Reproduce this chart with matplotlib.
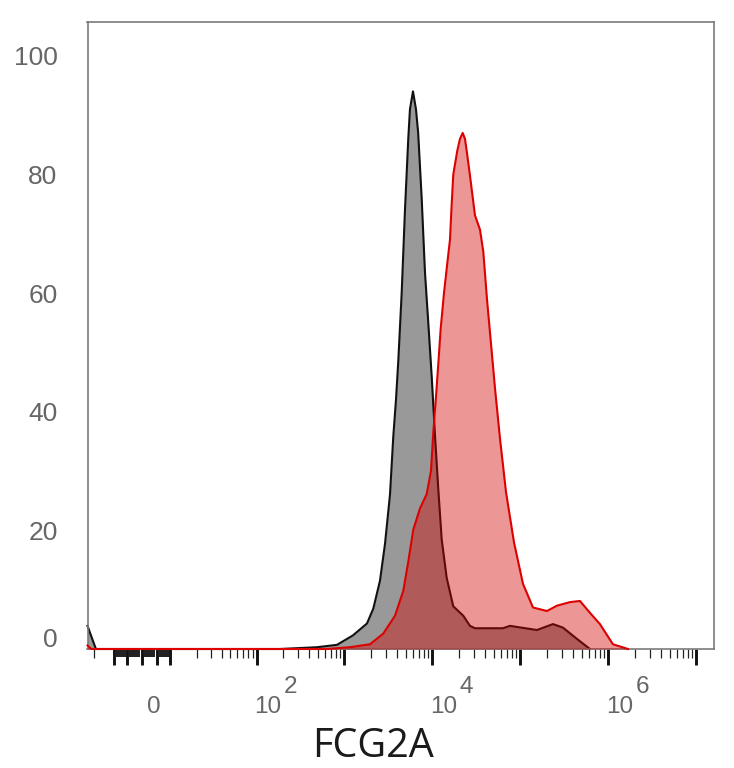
import numpy as np
import matplotlib
matplotlib.use("Agg")
import matplotlib.pyplot as plt
from matplotlib.transforms import ScaledTranslation

# ---------------- data (FCG2A intensity, % of max) ----------------
ctrl_x = [-19.6, -15.2, 185, 487, 822, 1249, 1802, 2125, 2532, 2887, 3290, 3587,
          3849, 4088, 4468, 4871, 5309, 5551, 6005, 6495, 6880, 7541, 8220, 8963,
          9798, 10683, 11643, 12727, 14507, 17240, 22399, 26690, 30421, 63282,
          75990, 154005, 234080, 304090, 438575, 616200]
ctrl_y = [3.9, 0, 0, 0.3, 0.7, 2.3, 4.3, 6.8, 11.5, 17.7, 26, 35.8, 42, 48.5, 60,
          74, 86, 91, 94, 91, 87, 76, 63.5, 55, 46, 36, 27, 18.5, 12, 7.2, 5.6,
          3.9, 3.5, 3.5, 3.9, 3.2, 4.2, 3.6, 1.7, 0]

fcg_x = [-19.6, -17.5, 633, 1155, 1950, 2761, 3750, 4659, 5309, 6052, 7212, 8594,
         9619, 10217, 10964, 11643, 12398, 13518, 14735, 15813, 16534, 17240,
         19144, 20547, 22050, 23421, 24483, 26690, 30421, 34672, 37798, 41637,
         46232, 51330, 58505, 68449, 84392, 106765, 138700, 200025, 259915,
         365200, 474400, 616200, 800400, 1124550, 1665700]
fcg_y = [0.6, 0, 0, 0.3, 0.8, 2.6, 5.6, 9.8, 14.7, 20.1, 23.7, 26.1, 30, 36.5,
         42.5, 48, 54, 60, 65, 69, 75, 80, 84, 86, 87, 86, 84, 79.8, 73.1, 70.7,
         67, 59, 51.5, 44, 35.5, 26.5, 18, 11, 7, 6.4, 7.3, 7.9, 8.1, 6.1, 4.2,
         0.8, 0]

y_ticks = [0, 20, 40, 60, 80, 100]
x_label_ticks = [0, 1e2, 1e4, 1e6]
x_label_base = ["0", "10", "10", "10"]
x_label_exp = ["", "2", "4", "6"]
x_label = "FCG2A"

# ---------------- figure ----------------
W, H = 734, 768
fig = plt.figure(figsize=(W / 100, H / 100), dpi=100)
ax = fig.add_axes([87.5 / W, 1 - 649 / H, 626 / W, 627 / H])

C = 10.0
def fwd(v):
    return np.arcsinh(np.asarray(v, dtype=float) / C) / np.log(10)
def inv(u):
    return C * np.sinh(np.asarray(u, dtype=float) * np.log(10))

ax.set_xscale("function", functions=(fwd, inv))
ax.set_xlim(-19.6, 1.562e7)
ax.set_ylim(0, 105.7)

# histograms
ax.fill_between(ctrl_x, ctrl_y, 0, color="#999999", lw=0, zorder=1)
ax.plot(ctrl_x, ctrl_y, color="#111111", lw=1.5, zorder=2, clip_on=False,
        solid_joinstyle="round")
ax.fill_between(fcg_x, fcg_y, 0, color="#d50000", alpha=0.41, lw=0, zorder=3)
ax.plot(fcg_x, fcg_y, color="#dd0000", lw=1.5, zorder=4, clip_on=False,
        solid_joinstyle="round")

# spines
for s in ax.spines.values():
    s.set_color("#7a7a7a")
    s.set_linewidth(1.2)

# x ticks
major = [-8, -4, 0, 4, 8] + [10 ** k for k in range(2, 8)]
lin_minor = [-7, -6, -5, -3, -2, -1, 1, 2, 3, 5, 6, 7]
minor = [-16] + lin_minor
for k in range(1, 7):
    for m in range(2, 10):
        minor.append(m * 10 ** k)
minor = sorted(minor)
ax.set_xticks(major)
ax.set_xticks(minor, minor=True)
ax.tick_params(axis="x", which="major", direction="out", length=11.5, width=2.1,
               color="#111111", labelbottom=False)
ax.tick_params(axis="x", which="minor", direction="out", length=6.5, width=0.9,
               color="#222222", labelbottom=False)
for loc, tk in zip(minor, ax.xaxis.get_minor_ticks(len(minor))):
    if loc in lin_minor:
        tk.tick1line.set_markeredgewidth(2.9)
        tk.tick1line.set_markersize(5.8)
        tk.tick1line.set_color("#111111")

# x tick labels (FlowJo style, base + raised exponent)
for v, b, e in zip(x_label_ticks, x_label_base, x_label_exp):
    ax.annotate(b, xy=(v, 0), xycoords=("data", "axes fraction"),
                xytext=(8.3, -46.0), textcoords="offset points",
                ha="center", va="baseline", fontsize=17.5,
                family="Liberation Sans", color="#666666")
    if e:
        ax.annotate(e, xy=(v, 0), xycoords=("data", "axes fraction"),
                    xytext=(19.4, -31.7), textcoords="offset points",
                    ha="left", va="baseline", fontsize=17.5,
                    family="Liberation Sans", color="#666666")

# y ticks
ax.set_yticks(y_ticks)
ax.set_yticklabels([str(t) for t in y_ticks])
ax.tick_params(axis="y", length=0, pad=21.6, labelsize=19, labelcolor="#666666")
for lab in ax.get_yticklabels():
    lab.set_family("Liberation Sans")
t0 = ax.yaxis.get_major_ticks()[0]
t0.label1.set_transform(t0.label1.get_transform() +
                        ScaledTranslation(0, 0.115, fig.dpi_scale_trans))

# x label
ax.set_xlabel(x_label, fontsize=28.5, family="Open Sans", color="#1a1a1a")
ax.xaxis.set_label_coords((373 - 87.5) / 626, (649 - 757) / 627)
ax.xaxis.label.set_verticalalignment("baseline")

fig.savefig("out.png", dpi=100)
